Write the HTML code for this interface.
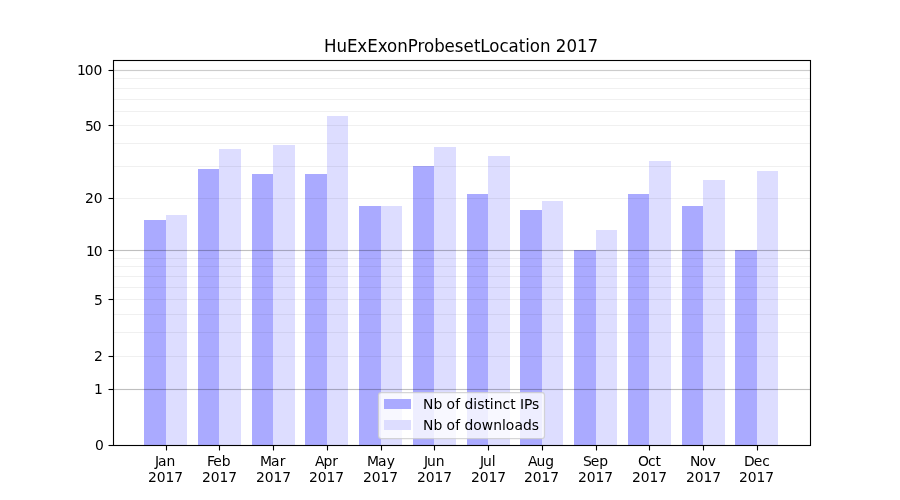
<!DOCTYPE html>
<html lang="en"><head><meta charset="utf-8"><title>HuExExonProbesetLocation 2017</title>
<style>html,body{margin:0;padding:0;background:#fff;}body{width:900px;height:500px;overflow:hidden;}svg{display:block;}text{font-family:"DejaVu Sans","Liberation Sans",sans-serif;fill:#000;}.t{font-size:13.889px;}.ti{font-size:16.667px;}</style></head><body>
<svg xmlns="http://www.w3.org/2000/svg" width="900" height="500" viewBox="0 0 900 500">
<rect width="900" height="500" fill="#fff"/>
<g shape-rendering="crispEdges">
<rect x="144" y="220" width="22" height="225" fill="#aaaaff"/>
<rect x="198" y="169" width="21" height="276" fill="#aaaaff"/>
<rect x="252" y="174" width="21" height="271" fill="#aaaaff"/>
<rect x="305" y="174" width="22" height="271" fill="#aaaaff"/>
<rect x="359" y="206" width="22" height="239" fill="#aaaaff"/>
<rect x="413" y="166" width="21" height="279" fill="#aaaaff"/>
<rect x="467" y="194" width="21" height="251" fill="#aaaaff"/>
<rect x="520" y="210" width="22" height="235" fill="#aaaaff"/>
<rect x="574" y="250" width="22" height="195" fill="#aaaaff"/>
<rect x="628" y="194" width="21" height="251" fill="#aaaaff"/>
<rect x="682" y="206" width="21" height="239" fill="#aaaaff"/>
<rect x="735" y="250" width="22" height="195" fill="#aaaaff"/>
<rect x="166" y="215" width="21" height="230" fill="#ddddff"/>
<rect x="219" y="149" width="22" height="296" fill="#ddddff"/>
<rect x="273" y="145" width="22" height="300" fill="#ddddff"/>
<rect x="327" y="116" width="21" height="329" fill="#ddddff"/>
<rect x="381" y="206" width="21" height="239" fill="#ddddff"/>
<rect x="434" y="147" width="22" height="298" fill="#ddddff"/>
<rect x="488" y="156" width="22" height="289" fill="#ddddff"/>
<rect x="542" y="201" width="21" height="244" fill="#ddddff"/>
<rect x="596" y="230" width="21" height="215" fill="#ddddff"/>
<rect x="649" y="161" width="22" height="284" fill="#ddddff"/>
<rect x="703" y="180" width="22" height="265" fill="#ddddff"/>
<rect x="757" y="171" width="21" height="274" fill="#ddddff"/>
</g>
<g shape-rendering="crispEdges">
<rect x="114" y="78" width="696" height="1" fill="#000" fill-opacity="0.06"/>
<rect x="114" y="88" width="696" height="1" fill="#000" fill-opacity="0.06"/>
<rect x="114" y="99" width="696" height="1" fill="#000" fill-opacity="0.06"/>
<rect x="114" y="111" width="696" height="1" fill="#000" fill-opacity="0.06"/>
<rect x="114" y="125" width="696" height="1" fill="#000" fill-opacity="0.06"/>
<rect x="114" y="143" width="696" height="1" fill="#000" fill-opacity="0.06"/>
<rect x="114" y="166" width="696" height="1" fill="#000" fill-opacity="0.06"/>
<rect x="114" y="198" width="696" height="1" fill="#000" fill-opacity="0.06"/>
<rect x="114" y="258" width="696" height="1" fill="#000" fill-opacity="0.06"/>
<rect x="114" y="266" width="696" height="1" fill="#000" fill-opacity="0.06"/>
<rect x="114" y="276" width="696" height="1" fill="#000" fill-opacity="0.06"/>
<rect x="114" y="287" width="696" height="1" fill="#000" fill-opacity="0.06"/>
<rect x="114" y="299" width="696" height="1" fill="#000" fill-opacity="0.06"/>
<rect x="114" y="314" width="696" height="1" fill="#000" fill-opacity="0.06"/>
<rect x="114" y="332" width="696" height="1" fill="#000" fill-opacity="0.06"/>
<rect x="114" y="356" width="696" height="1" fill="#000" fill-opacity="0.06"/>
<rect x="114" y="70" width="696" height="1" fill="#000" fill-opacity="0.2"/>
<rect x="114" y="69" width="696" height="1" fill="#000" fill-opacity="0.014"/>
<rect x="114" y="71" width="696" height="1" fill="#000" fill-opacity="0.014"/>
<rect x="114" y="250" width="696" height="1" fill="#000" fill-opacity="0.25"/>
<rect x="114" y="249" width="696" height="1" fill="#000" fill-opacity="0.014"/>
<rect x="114" y="251" width="696" height="1" fill="#000" fill-opacity="0.014"/>
<rect x="114" y="389" width="696" height="1" fill="#000" fill-opacity="0.25"/>
<rect x="114" y="388" width="696" height="1" fill="#000" fill-opacity="0.014"/>
<rect x="114" y="390" width="696" height="1" fill="#000" fill-opacity="0.014"/>
<rect x="113" y="60" width="698" height="1" fill="#000"/>
<rect x="113" y="445" width="698" height="1" fill="#000"/>
<rect x="113" y="60" width="1" height="386" fill="#000"/>
<rect x="810" y="60" width="1" height="386" fill="#000"/>
<rect x="113" y="59" width="698" height="1" fill="#000" fill-opacity="0.055"/>
<rect x="113" y="61" width="698" height="1" fill="#000" fill-opacity="0.055"/>
<rect x="113" y="444" width="698" height="1" fill="#000" fill-opacity="0.055"/>
<rect x="113" y="446" width="698" height="1" fill="#000" fill-opacity="0.055"/>
<rect x="112" y="60" width="1" height="386" fill="#000" fill-opacity="0.055"/>
<rect x="114" y="60" width="1" height="386" fill="#000" fill-opacity="0.055"/>
<rect x="809" y="60" width="1" height="386" fill="#000" fill-opacity="0.055"/>
<rect x="811" y="60" width="1" height="386" fill="#000" fill-opacity="0.055"/>
</g>
<g stroke="#000" stroke-width="1.11" fill="none">
<line x1="108.5" y1="70.5" x2="113.5" y2="70.5"/>
<line x1="108.5" y1="125.5" x2="113.5" y2="125.5"/>
<line x1="108.5" y1="198.5" x2="113.5" y2="198.5"/>
<line x1="108.5" y1="250.5" x2="113.5" y2="250.5"/>
<line x1="108.5" y1="299.5" x2="113.5" y2="299.5"/>
<line x1="108.5" y1="356.5" x2="113.5" y2="356.5"/>
<line x1="108.5" y1="389.5" x2="113.5" y2="389.5"/>
<line x1="108.5" y1="445.5" x2="113.5" y2="445.5"/>
<line x1="166.5" y1="445.5" x2="166.5" y2="450.5"/>
<line x1="219.5" y1="445.5" x2="219.5" y2="450.5"/>
<line x1="273.5" y1="445.5" x2="273.5" y2="450.5"/>
<line x1="327.5" y1="445.5" x2="327.5" y2="450.5"/>
<line x1="381.5" y1="445.5" x2="381.5" y2="450.5"/>
<line x1="434.5" y1="445.5" x2="434.5" y2="450.5"/>
<line x1="488.5" y1="445.5" x2="488.5" y2="450.5"/>
<line x1="542.5" y1="445.5" x2="542.5" y2="450.5"/>
<line x1="596.5" y1="445.5" x2="596.5" y2="450.5"/>
<line x1="649.5" y1="445.5" x2="649.5" y2="450.5"/>
<line x1="703.5" y1="445.5" x2="703.5" y2="450.5"/>
<line x1="757.5" y1="445.5" x2="757.5" y2="450.5"/>
</g>
<text id="y100" class="t" x="77.066 84.628 93.456" y="74.550">100</text>
<text id="y50" class="t" transform="translate(0 130.550) scale(1 0.9800)" x="84.894 92.706" y="0">50</text>
<text id="y20" class="t" transform="translate(0 202.550) scale(1 0.9800)" x="84.894 93.706" y="0">20</text>
<text id="y10" class="t" transform="translate(0 255.550) scale(1 1.0200)" x="85.894 93.706" y="0">10</text>
<text id="y5" class="t" transform="translate(0 304.550) scale(1 1.0200)" x="93.972" y="0">5</text>
<text id="y2" class="t" transform="translate(0 360.550) scale(1 0.9800)" x="93.972" y="0">2</text>
<text id="y1" class="t" transform="translate(0 393.550) scale(1 1.0098)" x="93.972" y="0">1</text>
<text id="y0" class="t" transform="translate(0 449.550) scale(1 0.9800)" x="94.972" y="0">0</text>
<text id="Jan" class="t" transform="translate(0 465.500) scale(1 1.0302)" x="154.88 158.083 166.473" y="0">Jan</text>
<text id="Jan17" class="t" transform="translate(0 481.600) scale(1 0.9800)" x="147.919 156.856 165.434 174.262" y="0">2017</text>
<text id="Feb" class="t" transform="translate(0 465.500) scale(1 1.0193)" x="206.901 213.37 221.651" y="0">Feb</text>
<text id="Feb17" class="t" transform="translate(0 481.600) scale(1 0.9800)" x="201.909 210.846 219.424 228.253" y="0">2017</text>
<text id="Mar" class="t" transform="translate(0 465.500) scale(1 1.0302)" x="259.951 270.92 279.67" y="0">Mar</text>
<text id="Mar17" class="t" transform="translate(0 481.600) scale(1 0.9800)" x="256.014 264.826 273.404 282.233" y="0">2017</text>
<text id="Apr" class="t" x="314.902 323.387 332.199" y="465.500">Apr</text>
<text id="Apr17" class="t" transform="translate(0 481.600) scale(1 0.9800)" x="309.004 317.816 326.394 335.223" y="0">2017</text>
<text id="May" class="t" transform="translate(0 465.500) scale(1 1.0302)" x="366.931 377.9 386.65" y="0">May</text>
<text id="May17" class="t" transform="translate(0 481.600) scale(1 0.9800)" x="362.994 371.806 380.384 389.212" y="0">2017</text>
<text id="Jun" class="t" transform="translate(0 465.500) scale(1 1.0296)" x="423.911 427.114 435.661" y="0">Jun</text>
<text id="Jun17" class="t" transform="translate(0 481.600) scale(1 0.9800)" x="416.974 425.786 434.614 443.193" y="0">2017</text>
<text id="Jul" class="t" transform="translate(0 465.500) scale(1 1.0400)" x="479.995 483.073 491.745" y="0">Jul</text>
<text id="Jul17" class="t" transform="translate(0 481.600) scale(1 0.9800)" x="470.964 479.776 488.604 497.182" y="0">2017</text>
<text id="Aug" class="t" transform="translate(0 465.500) scale(1 0.9900)" x="527.928 536.412 545.209" y="0">Aug</text>
<text id="Aug17" class="t" transform="translate(0 481.600) scale(1 0.9800)" x="523.944 532.756 541.584 550.162" y="0">2017</text>
<text id="Sep" class="t" x="582.887 590.684 599.231" y="465.500">Sep</text>
<text id="Sep17" class="t" transform="translate(0 481.600) scale(1 0.9800)" x="577.934 586.746 595.574 604.153" y="0">2017</text>
<text id="Oct" class="t" x="637.955 647.986 655.377" y="465.500">Oct</text>
<text id="Oct17" class="t" transform="translate(0 481.600) scale(1 0.9800)" x="631.924 640.736 649.564 658.143" y="0">2017</text>
<text id="Nov" class="t" transform="translate(0 465.500) scale(1 1.0400)" x="689.888 699.513 707.747" y="0">Nov</text>
<text id="Nov17" class="t" transform="translate(0 481.600) scale(1 0.9800)" x="685.904 694.716 703.544 712.247" y="0">2017</text>
<text id="Dec" class="t" transform="translate(0 465.500) scale(1 1.0200)" x="743.995 753.667 762.214" y="0">Dec</text>
<text id="Dec17" class="t" transform="translate(0 481.600) scale(1 0.9800)" x="738.894 747.706 756.534 765.237" y="0">2017</text>
<text id="title" class="ti" transform="translate(0 51.575) scale(1 1.0920)" x="323.973 336.452 346.969 357.345 367.162 377.663 386.977 397.129 407.786 417.495 423.964 434.24 444.537 454.749 463.409 473.996 480.26 489.209 499.626 508.507 518.674 525.188 529.799 539.95 550.482 555.638 566.576 576.888 587.45" y="0">HuExExonProbesetLocation 2017</text>
<rect x="378.5" y="392.5" width="166" height="46" rx="2.8" ry="2.8" fill="#fff" fill-opacity="0.8" stroke="#ccc" stroke-opacity="0.8" stroke-width="1.25"/>
<rect x="384" y="399" width="27" height="10" fill="#aaaaff" shape-rendering="crispEdges"/>
<rect x="384" y="420" width="27" height="10" fill="#ddddff" shape-rendering="crispEdges"/>
<text id="leg1" class="t" transform="translate(0 408.600) scale(1 1.0100)" x="422.95 433.45 442.372 446.419 455.153 460.169 464.575 473.138 477.231 484.466 489.778 493.763 502.434 510.184 515.622 519.903 523.997 532.122" y="0">Nb of distinct IPs</text>
<text id="leg2" class="t" transform="translate(0 429.525) scale(1 1.0200)" x="422.95 433.45 442.372 446.419 455.153 460.169 464.45 473.263 481.872 493.216 501.888 505.747 514.481 522.981 531.794" y="0">Nb of downloads</text>
</svg></body></html>
